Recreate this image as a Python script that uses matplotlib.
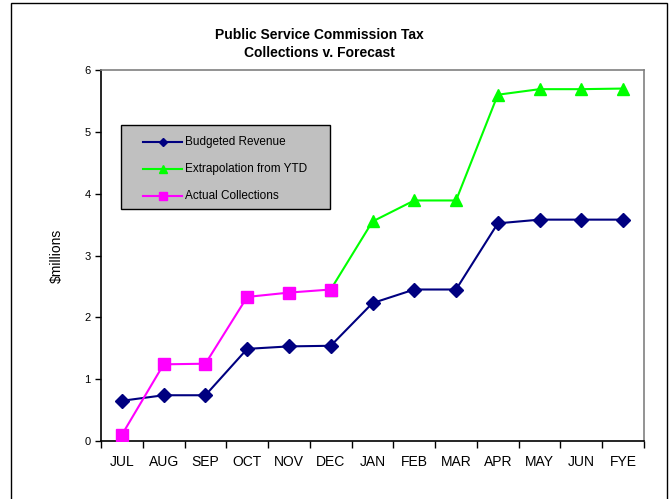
import matplotlib
matplotlib.use("Agg")
import matplotlib.pyplot as plt
from matplotlib.patches import Rectangle
from matplotlib.lines import Line2D

plt.rcParams['font.family'] = ['Liberation Sans', 'DejaVu Sans']

months = ['JUL', 'AUG', 'SEP', 'OCT', 'NOV', 'DEC', 'JAN', 'FEB', 'MAR', 'APR', 'MAY', 'JUN', 'FYE']
budgeted = [0.65, 0.74, 0.74, 1.49, 1.53, 1.54, 2.23, 2.45, 2.45, 3.52, 3.58, 3.58, 3.58]
extrap_months = ['DEC', 'JAN', 'FEB', 'MAR', 'APR', 'MAY', 'JUN', 'FYE']
extrapolation = [2.45, 3.55, 3.89, 3.89, 5.60, 5.69, 5.69, 5.70]
actual_months = ['JUL', 'AUG', 'SEP', 'OCT', 'NOV', 'DEC']
actual = [0.10, 1.24, 1.25, 2.33, 2.40, 2.45]

W, H = 670, 499
fig = plt.figure(figsize=(W / 100, H / 100), dpi=100)


def fx(px):
    return px / W


def fy(py):
    return 1 - py / H


# outer chart border
fig.patches.append(Rectangle((fx(11), -0.01), 656 / W, fy(3) + 0.01,
                             transform=fig.transFigure, fill=False,
                             edgecolor='black', linewidth=1.0))

ax = fig.add_axes([fx(101), fy(441), (644 - 101) / W, (441 - 70) / H])

xb = [months.index(m) for m in months]
xe = [months.index(m) for m in extrap_months]
xa = [months.index(m) for m in actual_months]

series = [
    ('Budgeted Revenue', xb, budgeted, '#000080', 'D', 7),
    ('Extrapolation from YTD', xe, extrapolation, '#00FF00', '^', 9),
    ('Actual Collections', xa, actual, '#FF00FF', 's', 9),
]
zorders = [4, 3, 5]
for (name, xs, ys, col, mk, ms), z in zip(series, zorders):
    ax.plot(xs, ys, color=col, marker=mk, markersize=ms, linewidth=1.5,
            zorder=z)

ax.set_xlim(-0.5, len(months) - 0.5)
ax.set_ylim(0, 6)
ax.set_yticks(range(0, 7))
ax.tick_params(axis='y', labelsize=8, direction='out', length=4, width=1)
ax.set_xticks(range(len(months)))
ax.set_xticklabels(months, fontsize=10)
ax.tick_params(axis='x', length=0, pad=10)
ax.set_xticks([i - 0.5 for i in range(len(months) + 1)], minor=True)
ax.tick_params(axis='x', which='minor', length=5, width=1, direction='out')

for s in ['left', 'bottom']:
    ax.spines[s].set_color('black')
    ax.spines[s].set_linewidth(1.2)
for s in ['top', 'right']:
    ax.spines[s].set_color('#808080')
    ax.spines[s].set_linewidth(1.2)

ax.set_ylabel('$millions', fontsize=10, labelpad=15)

# legend box drawn like the spreadsheet one
fig.patches.append(Rectangle((fx(121), fy(209)), (330 - 121) / W, (209 - 125) / H,
                             transform=fig.transFigure, facecolor='#C0C0C0',
                             edgecolor='black', linewidth=1.0, zorder=6))
row_y = [142, 169, 196]
for (name, xs, ys, col, mk, ms), ry in zip(series, row_y):
    fig.lines.append(Line2D([fx(143), fx(182)], [fy(ry), fy(ry)],
                            transform=fig.transFigure, color=col,
                            linewidth=1.5, zorder=7))
    fig.lines.append(Line2D([fx(162.5)], [fy(ry)], transform=fig.transFigure,
                            color=col, marker=mk, markersize=ms * 0.6,
                            linestyle='none', zorder=8))
    fig.text(fx(185), fy(ry), name, fontsize=8.5, ha='left', va='center',
             zorder=9)

fig.text(fx(319), fy(35), 'Public Service Commission Tax', ha='center',
         va='center', fontsize=10, fontweight='bold')
fig.text(fx(319), fy(53), 'Collections v. Forecast', ha='center',
         va='center', fontsize=10, fontweight='bold')

fig.savefig('out.png', dpi=100)
